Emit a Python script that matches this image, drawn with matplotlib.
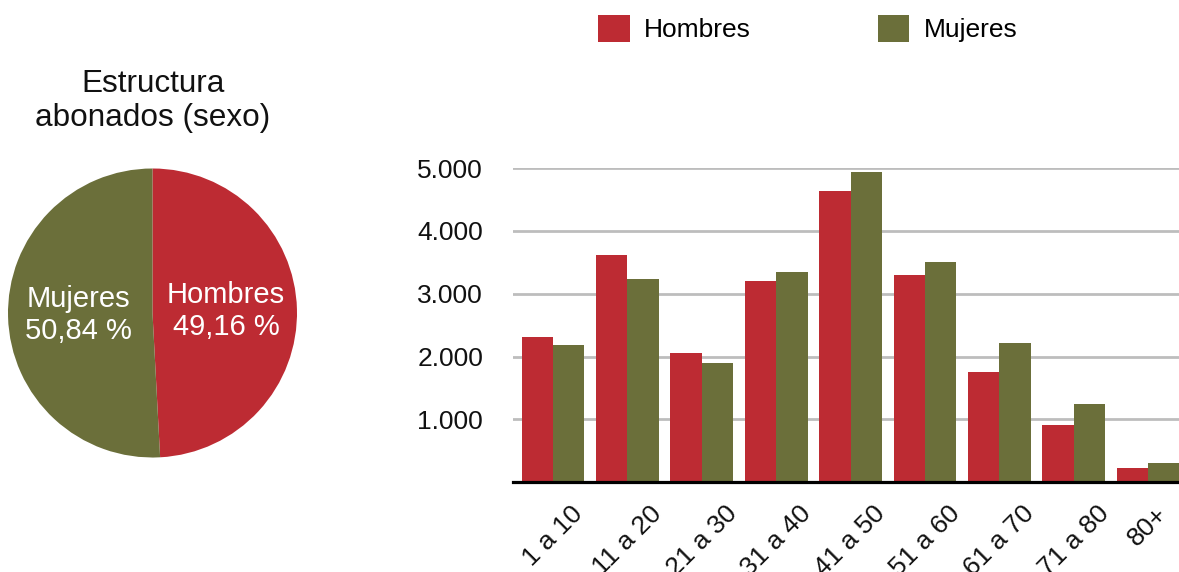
#age / sex structure of subscribers: pie on the left, grouped bars on the right
import numpy as np
import matplotlib
matplotlib.use('Agg')
import matplotlib.pyplot as plt

plt.rcParams['font.family'] = ['Liberation Sans', 'DejaVu Sans']

#data
grupos = ['1 a 10', '11 a 20', '21 a 30', '31 a 40', '41 a 50', '51 a 60', '61 a 70', '71 a 80', '80+']
hombres = [2310, 3620, 2060, 3200, 4640, 3290, 1760, 910, 230]
mujeres = [2190, 3240, 1890, 3340, 4940, 3500, 2220, 1250, 310]
pie_labels = ['Hombres', 'Mujeres']
pie_pct = [49.16, 50.84]
yticks = [1000, 2000, 3000, 4000, 5000]
ytick_labels = ['1.000', '2.000', '3.000', '4.000', '5.000']

rojo = '#BD2B33'
verde = '#6B6F3A'

W, H = 1179, 572
fig = plt.figure(figsize=(W/100, H/100), dpi=100)

#pie
pax = fig.add_axes([8/W, (H-457.5)/H, 289/W, 289/H])
txt = [f'{n}\n{p:.2f} %'.replace('.', ',') for n, p in zip(pie_labels, pie_pct)]
wedges, texts = pax.pie(pie_pct, labels=txt, colors=[rojo, verde], startangle=90,
                        counterclock=False, labeldistance=0.51,
                        wedgeprops=dict(linewidth=0),
                        textprops=dict(color='white', fontsize=21, linespacing=1.15))
for t in texts:
    t.set_ha('center')
    t.set_va('center')
pax.set_xlim(-1, 1)
pax.set_ylim(-1, 1)
pax.set_aspect('equal')
pax.axis('off')

fig.text(153/W, 1-101/H, 'Estructura\nabonados (sexo)', ha='center', va='center',
         fontsize=22.7, linespacing=1.15, color='#111111')

#bars
bax = fig.add_axes([513/W, (H-482.3)/H, 666/W, 314.3/H])
x = np.arange(len(grupos))
bw = 0.423
b1 = bax.bar(x - bw/2, hombres, bw, color=rojo, label='Hombres', zorder=3)
b2 = bax.bar(x + bw/2, mujeres, bw, color=verde, label='Mujeres', zorder=3)

bax.set_xlim(-0.538, 8.414)
bax.set_ylim(0, 5000)
bax.set_yticks(yticks)
bax.set_yticklabels(ytick_labels)
bax.yaxis.grid(True, color='#BDBDBD', linewidth=2.0, zorder=0)
bax.set_axisbelow(True)
for s in ['top', 'right', 'left']:
    bax.spines[s].set_visible(False)
bax.spines['bottom'].set_linewidth(2.3)
bax.spines['bottom'].set_color('black')
bax.spines['bottom'].set_zorder(4)
bax.tick_params(axis='y', length=0, pad=21.5, labelsize=19, labelcolor='#111111')
bax.tick_params(axis='x', length=0, pad=14, labelsize=19, labelcolor='#111111')

#rotated labels centred under each group (bounding box centred on tick)
bax.set_xticks(x)
bax.set_xticklabels(grupos, rotation=45, ha='center', va='top')

#legend on top
fig.legend(handles=[b1, b2], loc='center left', bbox_to_anchor=(598/W, 1-28.5/H),
           ncol=2, frameon=False, fontsize=19, handlelength=1.2, handleheight=1.2,
           handletextpad=0.55, columnspacing=4.8, borderpad=0, borderaxespad=0)

plt.savefig('out.png', dpi=100)
